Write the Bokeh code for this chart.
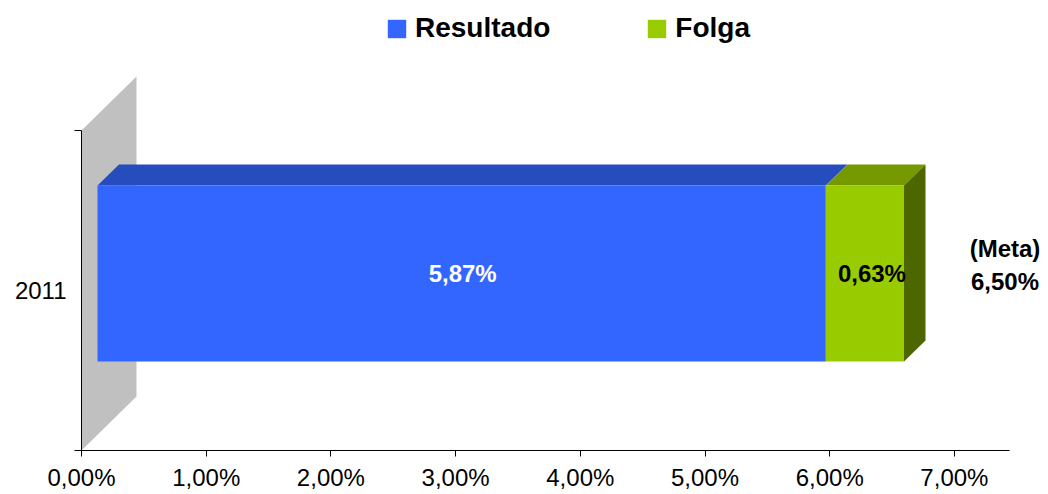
from bokeh.plotting import figure
from bokeh.models import (Range1d, FixedTicker, Legend, LegendItem, ColumnDataSource)
from bokeh.embed import file_html
from bokeh.resources import INLINE
from bokeh.core.properties import value

# ---- data ----
category = "2011"
series_names = ["Resultado", "Folga"]
series_values = [5.87, 0.63]          # percent
series_labels = ["5,87%", "0,63%"]
meta_value = 6.50
meta_labels = ["(Meta)", "6,50%"]
x_ticks = [0, 1, 2, 3, 4, 5, 6, 7]
x_tick_labels = ["0,00%", "1,00%", "2,00%", "3,00%", "4,00%", "5,00%", "6,00%", "7,00%"]

front_colors = ["#3366FF", "#99CC00"]
top_colors = ["#264DBE", "#779900"]
side_color = "#4D6600"
wall_color = "#C0C0C0"

# ---- layout constants ----
W, H = 1048, 494
ML, MB = 81, 44
px_per_x = 124.7              # pixels per 1%
px_per_y = 320.0              # pixels per category band
frame_w = W - ML
frame_h = H - MB
x_end = frame_w / px_per_x
y_start = -0.5
y_end = y_start + frame_h / px_per_y

# 3D geometry (data units)
front_shift = 16 / px_per_x
front_scale = 0.995
depth_x = 21.5 / px_per_x
depth_y = 21 / px_per_y
bar_center = 0.053
bar_half = 0.275
wall_dx = 55 / px_per_x
wall_dy = 54 / px_per_y

p = figure(width=W, height=H, output_backend="svg", toolbar_location=None,
           x_range=Range1d(0, x_end), y_range=Range1d(y_start, y_end),
           min_border_left=ML, min_border_right=0, min_border_top=0,
           min_border_bottom=MB, outline_line_color=None)
p.grid.visible = False
p.background_fill_color = "white"
p.border_fill_color = "white"

# back wall
p.patch([0, 0, wall_dx, wall_dx],
        [-0.5, 0.5, 0.5 + wall_dy, -0.5 + wall_dy],
        fill_color=wall_color, line_color=None)

yb = bar_center - bar_half
yt = bar_center + bar_half

starts = []
ends = []
acc = 0.0
for v in series_values:
    starts.append(front_shift + acc * front_scale)
    acc += v
    ends.append(front_shift + acc * front_scale)

renderers = []
for i in range(len(series_values)):
    x0, x1 = starts[i], ends[i]
    # top face
    p.patch([x0, x1, x1 + depth_x, x0 + depth_x],
            [yt, yt, yt + depth_y, yt + depth_y],
            fill_color=top_colors[i], line_color=None)
    r = p.quad(left=[x0], right=[x1], bottom=[yb], top=[yt],
               fill_color=front_colors[i], line_color=None)
    renderers.append(r)

# side face of last segment
xl = ends[-1]
p.patch([xl, xl, xl + depth_x, xl + depth_x],
        [yb, yt, yt + depth_y, yb + depth_y],
        fill_color=side_color, line_color=None)

# value labels
lab_src = ColumnDataSource(dict(
    x=[(s + e) / 2 for s, e in zip(starts, ends)],
    y=[bar_center, bar_center],
    t=series_labels,
    c=["white", "black"],
    dx=[1, 7]))
p.text(x="x", y="y", text="t", text_color="c", source=lab_src,
       x_offset="dx",
       text_align="center", text_baseline="middle",
       text_font=value("Liberation Sans"), text_font_style="bold",
       text_font_size="24px")

meta_x = front_shift + meta_value * front_scale + 0.81
p.text(x=[meta_x, meta_x], y=[bar_center + 0.077, bar_center - 0.026],
       text=meta_labels, text_align="center", text_baseline="middle",
       text_font=value("Liberation Sans"), text_font_style="bold",
       text_font_size="24px", text_color="black")

# axes
xa = p.xaxis[0]
xa.ticker = FixedTicker(ticks=x_ticks)
xa.major_label_overrides = {t: l for t, l in zip(x_ticks, x_tick_labels)}
xa.bounds = (0, 7.44)
xa.major_tick_out = 6
xa.major_tick_in = 0
xa.minor_tick_out = 0
xa.minor_tick_in = 0
xa.axis_line_color = "black"
xa.major_tick_line_color = "black"
xa.major_label_text_font = "Liberation Sans"
xa.major_label_text_font_size = "24px"
xa.major_label_text_color = "black"
xa.major_label_standoff = 7

ya = p.yaxis[0]
ya.ticker = FixedTicker(ticks=[0], minor_ticks=[-0.5, 0.5])
ya.major_label_overrides = {0: category}
ya.bounds = (-0.5, 0.5)
ya.major_tick_out = 0
ya.major_tick_in = 0
ya.minor_tick_out = 7
ya.minor_tick_in = 0
ya.axis_line_color = "black"
ya.minor_tick_line_color = "black"
ya.major_label_text_font = "Liberation Sans"
ya.major_label_text_font_size = "24px"
ya.major_label_text_color = "black"
ya.major_label_standoff = 8

# legend
legend = Legend(items=[LegendItem(label=n, renderers=[r]) for n, r in zip(series_names, renderers)],
                orientation="horizontal", location=(304, 406),
                glyph_width=23, glyph_height=23, label_standoff=7, spacing=95,
                padding=0, margin=0, border_line_alpha=0, background_fill_alpha=0,
                label_text_font="Liberation Sans", label_text_font_style="bold",
                label_text_font_size="28px", label_text_color="black")
p.add_layout(legend)

open("out.html", "w").write(file_html(p, INLINE))
